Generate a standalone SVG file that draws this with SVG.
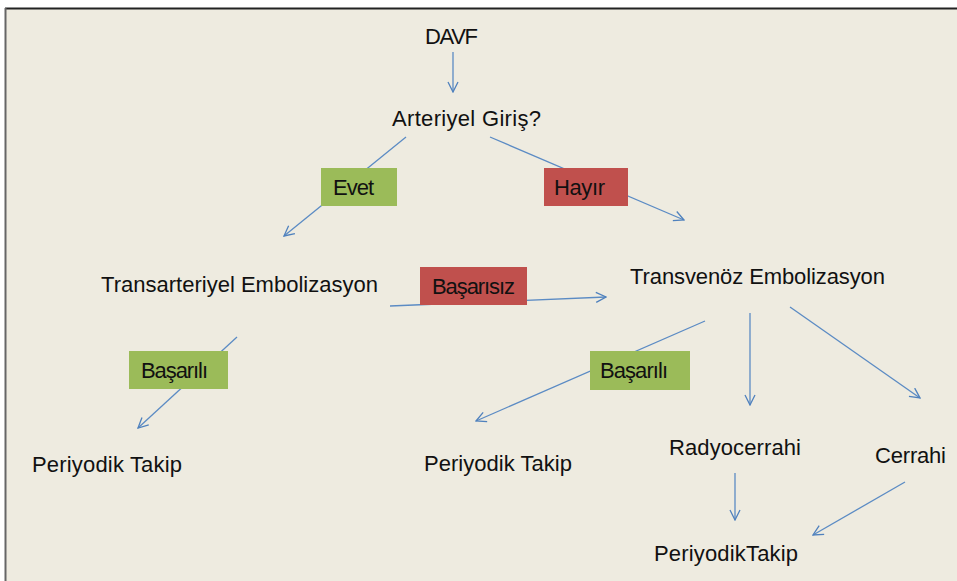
<svg xmlns="http://www.w3.org/2000/svg" width="957" height="581" viewBox="0 0 957 581">
<defs>
<marker id="ah" viewBox="0 0 12 12" refX="11" refY="6" markerWidth="12" markerHeight="12" markerUnits="userSpaceOnUse" orient="auto">
<path d="M1,1 L11,6 L1,11" fill="none" stroke="#4F81BD" stroke-width="1.3"/>
</marker>
<style>
.t{font-family:"Liberation Sans",Arial,sans-serif;font-size:22px;fill:#111;}
.c{fill:none;stroke:#5B8BC4;stroke-width:1.3;marker-end:url(#ah);}
.g{fill:#9BBB59;}
.r{fill:#C0504D;}
</style>
</defs>
<rect x="0" y="0" width="957" height="581" fill="#FFFFFF"/>
<rect x="5" y="8" width="952" height="573" fill="#EEEBE0"/>
<line x1="5" y1="8.5" x2="957" y2="8.5" stroke="#222" stroke-width="2"/>
<line x1="5.5" y1="8" x2="5.5" y2="581" stroke="#666" stroke-width="2"/>
<g id="connectors">
<line class="c" x1="453" y1="52" x2="453" y2="92"/>
<line class="c" x1="406" y1="137" x2="284" y2="236"/>
<line class="c" x1="490" y1="137" x2="684" y2="220"/>
<line class="c" x1="390" y1="306" x2="606" y2="297"/>
<line class="c" x1="237" y1="337" x2="138" y2="428"/>
<line class="c" x1="705" y1="321" x2="476" y2="421"/>
<line class="c" x1="750" y1="313" x2="750" y2="405"/>
<line class="c" x1="790" y1="307" x2="920" y2="398"/>
<line class="c" x1="735" y1="473" x2="735" y2="520"/>
<line class="c" x1="905" y1="482" x2="813" y2="535"/>
</g>
<g id="davf"><text class="t" x="425" y="44" textLength="53">DAVF</text></g>
<g id="arteriyel"><text class="t" x="392" y="126" textLength="149">Arteriyel Giriş?</text></g>
<g id="evet"><rect class="g" x="321" y="168" width="76" height="38"/><text class="t" x="333" y="195" textLength="41">Evet</text></g>
<g id="hayir"><rect class="r" x="544" y="168" width="84" height="38"/><text class="t" x="554" y="195" textLength="51">Hayır</text></g>
<g id="transarteriyel"><text class="t" x="101" y="292" textLength="277">Transarteriyel Embolizasyon</text></g>
<g id="transvenoz"><text class="t" x="630" y="284" textLength="255">Transvenöz  Embolizasyon</text></g>
<g id="basarisiz"><rect class="r" x="420" y="267" width="107" height="38"/><text class="t" x="432" y="294" textLength="83">Başarısız</text></g>
<g id="basarili1"><rect class="g" x="129" y="351" width="99" height="38"/><text class="t" x="141" y="378" textLength="67">Başarılı</text></g>
<g id="basarili2"><rect class="g" x="590" y="351" width="100" height="39"/><text class="t" x="600" y="378" textLength="68">Başarılı</text></g>
<g id="takip1"><text class="t" x="32" y="472" textLength="150">Periyodik Takip</text></g>
<g id="takip2"><text class="t" x="424" y="471" textLength="148">Periyodik Takip</text></g>
<g id="radyocerrahi"><text class="t" x="669" y="455" textLength="132">Radyocerrahi</text></g>
<g id="cerrahi"><text class="t" x="875" y="463" textLength="71">Cerrahi</text></g>
<g id="takip3"><text class="t" x="654" y="561" textLength="144">PeriyodikTakip</text></g>
</svg>
